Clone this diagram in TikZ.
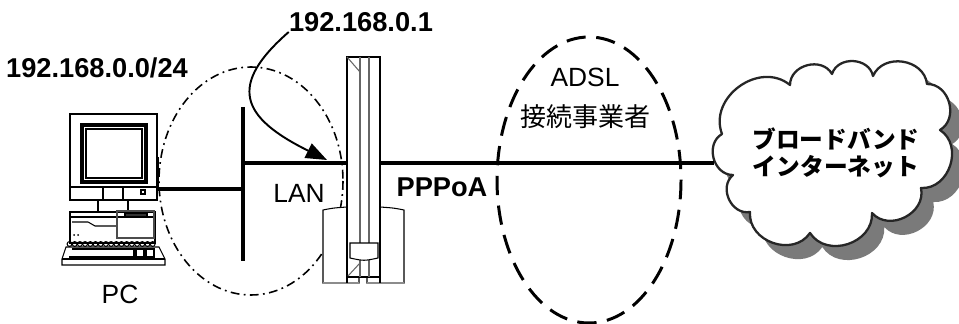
\documentclass[tikz,border=0pt]{standalone}
\usepackage{fontspec}
\setmainfont{Liberation Sans}
\newfontfamily\cjk{Noto Sans CJK JP}
\usepackage{tikz}
\usetikzlibrary{shadows,arrows.meta}
\tikzstyle{txt} = [inner sep=0pt, font=\fontsize{15}{18}\selectfont]
\tikzstyle{btxt} = [inner sep=0pt, font=\fontsize{15.5}{18}\selectfont\bfseries]
\tikzstyle{ctxt} = [inner sep=0pt, align=center, font=\cjk\fontsize{13.5}{15.5}\selectfont\bfseries]
\tikzstyle{wire} = [line width=1.9pt]
\tikzstyle{hw} = [line width=0.6pt]
\tikzstyle{lanzone} = [line width=0.9pt, dash pattern=on 5pt off 2.5pt on 1pt off 2.5pt]
\tikzstyle{ispzone} = [line width=1.7pt, dash pattern=on 11pt off 6pt]
\tikzstyle{puffy} = [draw=black!85, line width=1.3pt, fill=white, line join=round,
  drop shadow={shadow xshift=7pt, shadow yshift=-8pt, fill=black!52, opacity=1}]
\tikzstyle{puff} = [bend left=75, looseness=1.2]

\begin{document}
\begin{tikzpicture}[x=0.02cm, y=-0.02cm]
  \useasboundingbox (0,0) rectangle (959,324);

  % labels
  \node [btxt](net) at (97,68) {192.168.0.0/24};
  \node [btxt](gwip) at (361,22) {192.168.0.1};
  \node [txt](pc) at (120,294) {PC};
  \node [txt](lan) at (299,193) {LAN};
  \node [btxt](ppp) at (442,187) {PPPoA};
  \node [txt](adsl) at (585,77) {ADSL};
  \node [txt](isp) at (585,117) {\cjk\fontsize{14.8}{18}\selectfont 接続事業者};

  % the PC
  \draw [hw] (70,114) rectangle (157,200);
  \draw [hw] (70,187) -- (157,187);
  \draw [line width=1.8pt] (82,125) rectangle (146,182);
  \draw [hw] (86,129) rectangle (142,178);
  \draw [hw] (103,188) -- (103,199) (123,188) -- (123,199);
  \draw [hw] (141,190) rectangle (145,194);
  \draw [hw, fill=black] (157,158) rectangle (158.5,187);
  \draw [hw] (98,200) -- (98,211) (128,200) -- (128,211);
  \draw [hw] (70,212) rectangle (155,243);
  \draw [hw] (70,217) -- (155,217);
  \draw [hw] (72,222) -- (88,222) -- (95,226) -- (117,226);
  \draw [hw, draw=black!70] (117,211) rectangle (154,238);
  \draw [hw, fill=black!80] (125,213) rectangle (147,217);
  \fill (74,235) circle (1) (78,235) circle (1);
  \foreach \k in {0,...,16}
    \draw [hw] (69.5+5.2*\k,244) circle (2.4);
  \draw [hw] (66,247) -- (159,247) -- (165,259) -- (165,265) -- (62,265) -- (62,259) -- cycle;
  \draw [hw] (62,259) -- (165,259);
  \draw [hw] (72,249) -- (134,249) -- (134,257) -- (69,257);
  \draw [hw] (136,249) rectangle (144,257) (146,249) rectangle (154,257);
  \coordinate (pcport) at (158,189);

  % LAN segment
  \draw [lanzone] (251,181) ellipse [x radius=92, y radius=114];
  \coordinate (bustop) at (243,107);
  \coordinate (busbot) at (243,261);
  \coordinate (pcjoin) at (243,189);
  \coordinate (rtjoin) at (243,163);
  \draw [wire] (bustop) -- (busbot);
  \draw [wire] (pcport) -- (pcjoin);

  % the router
  \draw [hw, fill=white] (323,283) -- (323,210) .. controls (333,208) .. (347,207) -- (380,207)
    .. controls (394,208) .. (404,210) -- (404,283) -- (367,283) -- (367,277) -- (359,277) -- (359,283) -- cycle;
  \draw [line width=1.2pt, black!45] (323,283) -- (359,283) (367,283) -- (404,283);
  \draw [hw, fill=white] (347,57) rectangle (380,277);
  \draw [hw] (347,277) -- (347,283) (380,277) -- (380,283);
  \draw [hw, black!60] (360,57) -- (360,277) (369,57) -- (369,277);
  \draw [hw, black!60] (347,57) -- (360,72) (360,263) -- (348,276);
  \draw [hw, fill=white] (350,243) -- (378,243) -- (378,258) .. controls (364,261) .. (350,258) -- cycle;
  \coordinate (rtl) at (347,163);
  \coordinate (rtr) at (380,163);
  \draw [wire] (rtjoin) -- (rtl);

  % gateway address arrow
  \coordinate (gwtip) at (327,160);
  \draw [line width=1.1pt, -{Triangle[length=12pt,width=9pt]}]
    (gwip.south west) .. controls (228,85) and (240,117) .. (gwtip);

  % carrier
  \draw [ispzone] (589,180) ellipse [x radius=92, y radius=143];

  % internet cloud, puff by puff
  \draw [puffy] (722,134) to[puff] (790,85) to[puff] (832,74)
    to[puff] (873,76) to[puff] (927,84) to[puff] (940,130)
    to[puff] (921,188) to[puff] (872,213) to[puff] (810,233)
    to[puff] (750,212) to[puff] (733,175) to[puff] cycle;
  \node [ctxt](inet) at (836,153) {ブロードバンド\\インターネット};
  \coordinate (cloudw) at (714,163);
  \draw [wire] (rtr) -- (cloudw);
\end{tikzpicture}
\end{document}
